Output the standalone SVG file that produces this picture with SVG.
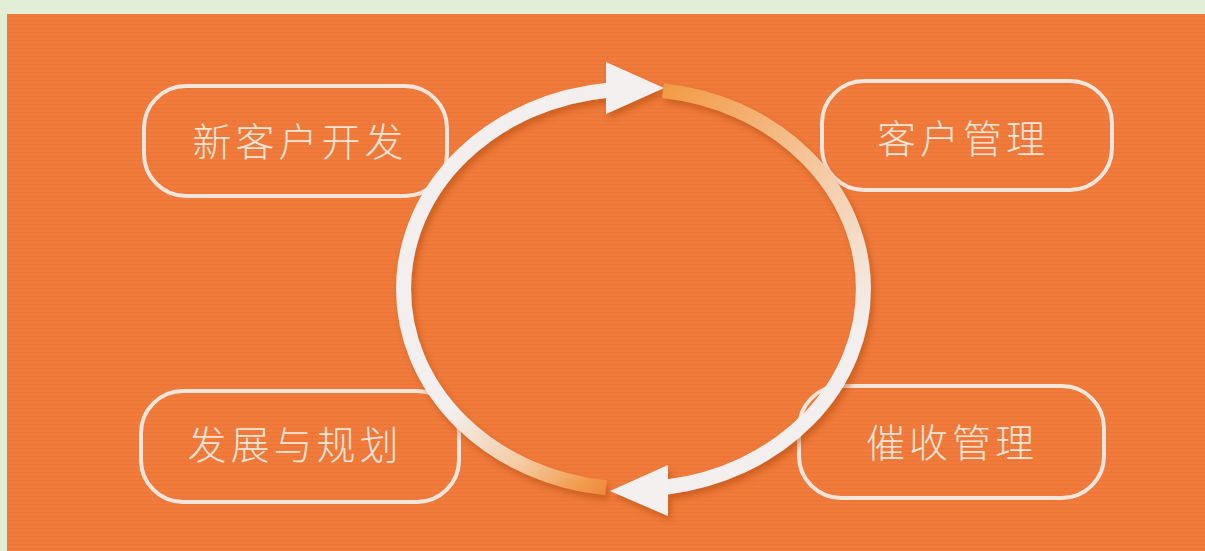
<svg xmlns="http://www.w3.org/2000/svg" width="1205" height="551" viewBox="0 0 1205 551">
<style>
.box{fill:none;stroke:#f8e6dc;stroke-width:4}
.lbl{font-family:"Noto Sans CJK SC","Noto Sans CJK TC",sans-serif;font-size:39px;font-weight:300;fill:#f6e4d6;text-anchor:middle;dominant-baseline:central;letter-spacing:4px}
.arc{fill:none;stroke-width:15;stroke-linecap:butt}
.head{fill:#f4f0f0}
</style>
<defs>
<pattern id="stripes" width="8" height="4" patternUnits="userSpaceOnUse">
<rect x="0" y="0" width="8" height="1.5" fill="#c84e1a" opacity="0.10"/>
</pattern>
<linearGradient id="g1" gradientUnits="userSpaceOnUse" x1="605" y1="500" x2="480" y2="380">
<stop offset="0" stop-color="#f0853d"/>
<stop offset="0.15" stop-color="#f29a4a"/>
<stop offset="0.5" stop-color="#f5cba4"/>
<stop offset="1" stop-color="#f3efee"/>
</linearGradient>
<linearGradient id="g2" gradientUnits="userSpaceOnUse" x1="665" y1="85" x2="860" y2="330">
<stop offset="0" stop-color="#f39a45"/>
<stop offset="0.5" stop-color="#f5c8a0"/>
<stop offset="1" stop-color="#f3efee"/>
</linearGradient>
<filter id="sh" x="-10%" y="-10%" width="120%" height="120%">
<feDropShadow dx="3" dy="5" stdDeviation="3" flood-color="#a8400f" flood-opacity="0.45"/>
</filter>
</defs>
<rect x="0" y="0" width="1205" height="551" fill="#e2eed6"/>
<rect x="7" y="14" width="1198" height="537" fill="#f07b3b"/>
<rect x="7" y="14" width="1198" height="537" fill="url(#stripes)"/>

<g id="node-new-customer">
<rect class="box" x="144" y="86" width="303" height="110" rx="42"/>
<text class="lbl" x="300" y="139">新客户开发</text>
</g>
<g id="node-customer-mgmt">
<rect class="box" x="822" y="81" width="290" height="109" rx="42"/>
<text class="lbl" x="963" y="136">客户管理</text>
</g>
<g id="node-planning">
<rect class="box" x="141" y="391" width="318" height="111" rx="42"/>
<text class="lbl" x="295" y="442">发展与规划</text>
</g>
<g id="node-collection">
<rect class="box" x="799" y="386" width="305" height="112" rx="42"/>
<text class="lbl" x="952" y="440">催收管理</text>
</g>

<g id="connectors" filter="url(#sh)">
<path class="arc" stroke="url(#g1)" d="M606,487.8 A229,200 0 0 1 608,90.3"/>
<polygon class="head" points="606,62 606,114 664,88"/>
<path class="arc" stroke="url(#g2)" d="M663,90.6 A229,200 0 0 1 667,487"/>
<polygon class="head" points="610,491 668,465 668,516"/>
</g>
</svg>
